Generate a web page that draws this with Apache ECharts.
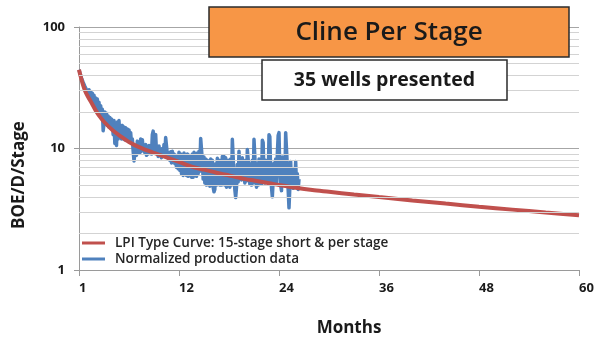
<!DOCTYPE html>
<html>
<head>
<meta charset="utf-8">
<script src="https://cdn.jsdelivr.net/npm/echarts@6/dist/echarts.min.js"></script>
<style>
  html, body { margin: 0; padding: 0; background: #fff; }
  #chart { width: 597px; height: 342px; }
</style>
</head>
<body>
<div id="chart"></div>
<script>
// Type curve (BOE/D per stage) at selected months
const curveMonths = [0, 0.25, 0.5, 0.75, 1, 1.5, 2, 2.5, 3, 4, 5, 6, 7, 8, 9, 10, 11, 12, 13, 14, 15, 16, 17, 18, 19, 20, 21, 22, 23, 24, 26, 28, 30, 33, 36, 40, 44, 48, 52, 56, 60];
const curveValues = [44.5, 38, 33, 29.6, 27.3, 23.8, 20.6, 18.3, 16.6, 14.2, 12.6, 11.3, 10.4, 9.75, 9.2, 8.7, 8.2, 7.75, 7.3, 6.95, 6.7, 6.45, 6.2, 6.0, 5.8, 5.6, 5.45, 5.3, 5.15, 5.0, 4.75, 4.55, 4.4, 4.18, 3.98, 3.74, 3.52, 3.32, 3.14, 2.97, 2.82];

// Normalized production data, one sample every 0.1 month starting at month 0
const prodStep = 0.1;
const prodValues = [
  44.5, 42, 40.5, 38, 37, 35, 34.5, 32.5, 32, 30.5,
  31.5, 27.5, 30.5, 26.5, 29.5, 25, 28.5, 24, 27.5, 23,
  26, 21.5, 25.5, 20.5, 24, 19.5, 22.5, 19, 21, 14,
  16, 20, 16.5, 19.5, 15.5, 18.5, 15, 18, 14.8, 17.5,
  16.5, 13, 17, 11, 15.5, 10.6, 16.5, 12, 17, 12.5,
  15, 12, 15.5, 12, 15, 11.8, 14.8, 12, 14.5, 11.9,
  14.2, 12.3, 13.5, 11, 12, 9.5, 7.9, 9, 10.2, 8.8,
  11.5, 9.6, 11.2, 9.2, 12, 9.5, 11.8, 10, 10.5, 9.2,
  10.8, 8.8, 10.4, 9, 10.6, 9.2, 10.2, 9, 13, 13.9,
  9.5, 12.5, 13, 9.2, 10.3, 8.6, 10.5, 8.8, 9.5, 8.4,
  10, 8.7, 10.8, 9, 12.3, 12, 9, 8.3, 9.2, 8,
  9.4, 7.6, 9.5, 7.8, 9, 7.5, 8.8, 7, 8.6, 6.8,
  9.3, 6.6, 9, 6.2, 8.8, 6, 9.2, 6.3, 8.6, 6,
  9, 5.9, 8.8, 6, 8.6, 5.8, 9, 5.8, 9.3, 6,
  8.8, 5.9, 9.2, 6.2, 9.5, 6.5, 12.1, 11.8, 8, 5.6,
  8.5, 5.2, 8.2, 5, 8, 5.4, 7.8, 4.9, 8.2, 5.2,
  8, 4.8, 4.4, 4.6, 7.5, 5, 8.3, 5.2, 8, 5,
  8, 5, 8.6, 5.4, 8.6, 5, 8.4, 4.8, 8, 5,
  8, 4.8, 8.2, 5, 11.9, 11.5, 6, 4.6, 3.95, 4.8,
  7.4, 5.3, 9.5, 5.6, 7.8, 5.5, 8.4, 5.8, 7.6, 5.2,
  8, 5.4, 9.8, 9.5, 6.8, 5.1, 7.5, 5, 8, 5.2,
  11.9, 11.5, 6.2, 4.8, 7.5, 5, 8.2, 5.3, 7.6, 5.1,
  11.7, 11.2, 5.8, 5.2, 8, 5.5, 7.8, 5.2, 13, 12.5,
  6.5, 4.8, 4, 5.5, 7.6, 5.3, 8.2, 5.2, 9, 12.8,
  13.5, 6.5, 5, 4.5, 8.5, 5.4, 7.8, 5, 13.5, 13.9,
  7.2, 4.6, 3.25, 4.8, 7.8, 4.8, 6.8, 4.7, 6.5, 4.9,
  7.8, 5, 6.2, 4.6, 5.6
];

// Log-scale minor gridline values
const minorGrid = [2, 3, 4, 5, 6, 7, 8, 9, 20, 30, 40, 50, 60, 70, 80, 90];
const xTickLabels = { 0: '1', 12: '12', 24: '24', 36: '36', 48: '48', 60: '60' };

const curveData = curveMonths.map((m, i) => [m, curveValues[i]]);
const prodData = prodValues.map((v, i) => [+(i * prodStep).toFixed(2), v]);

const FONT = '"Open Sans", Lato, sans-serif';

const chart = echarts.init(document.getElementById('chart'), null, { renderer: 'canvas' });
chart.setOption({
  animation: false,
  backgroundColor: '#ffffff',
  grid: { left: 79, right: 18, top: 27, bottom: 72, containLabel: false },
  legend: {
    left: 82, top: 235, orient: 'vertical', padding: 0, itemGap: 0,
    itemWidth: 23, itemHeight: 3, icon: 'rect',
    textStyle: { fontFamily: FONT, fontSize: 13.5, fontWeight: 600, color: '#262626', lineHeight: 16, padding: [0, 0, 0, 5] },
    data: ['LPI Type Curve: 15-stage short & per stage', 'Normalized production data']
  },
  xAxis: {
    type: 'value', min: 0, max: 60, interval: 12,
    axisLine: { show: true, lineStyle: { color: '#9a9a9a', width: 1 } },
    axisTick: { show: true, length: 6, lineStyle: { color: '#9a9a9a' } },
    splitLine: { show: false },
    axisLabel: {
      margin: 12, align: 'left',
      fontFamily: FONT, fontSize: 13, fontWeight: 'bold', color: '#1a1a1a',
      formatter: v => xTickLabels[v] || ''
    }
  },
  yAxis: {
    type: 'log', logBase: 10, min: 1, max: 100,
    axisLine: { show: true, lineStyle: { color: '#9a9a9a', width: 1 } },
    axisTick: { show: true, length: 5, lineStyle: { color: '#9a9a9a' } },
    splitLine: { show: true, lineStyle: { color: '#a6a6a6', width: 1 } },
    axisLabel: { margin: 14, fontFamily: FONT, fontSize: 13, fontWeight: 'bold', color: '#1a1a1a' }
  },
  series: [
    {
      name: 'grid',
      type: 'line', data: [], silent: true,
      markLine: {
        silent: true, symbol: 'none', animation: false,
        label: { show: false },
        lineStyle: { color: '#d3d3d3', width: 1, type: 'solid' },
        data: minorGrid.map(v => ({ yAxis: v }))
      }
    },
    {
      name: 'Normalized production data',
      type: 'line', data: prodData, showSymbol: false, z: 3,
      lineStyle: { color: '#4F81BD', width: 3.5, join: 'round' },
      itemStyle: { color: '#4F81BD' }
    },
    {
      name: 'LPI Type Curve: 15-stage short & per stage',
      type: 'line', data: curveData, smooth: 0.3, showSymbol: false, z: 4,
      lineStyle: { color: '#C0504D', width: 4 },
      itemStyle: { color: '#C0504D' }
    }
  ],
  graphic: [
    {
      type: 'rect', z: 100,
      shape: { x: 209, y: 7, width: 360, height: 50 },
      style: { fill: '#F79646', stroke: '#2b2b2b', lineWidth: 1.5 }
    },
    {
      type: 'text', z: 101, x: 389, y: 33,
      style: { text: 'Cline Per Stage', fontFamily: FONT, fontSize: 26, fontWeight: 600, fill: '#1a1a1a', align: 'center', verticalAlign: 'middle' }
    },
    {
      type: 'rect', z: 100,
      shape: { x: 262, y: 60, width: 245, height: 40 },
      style: { fill: '#ffffff', stroke: '#2b2b2b', lineWidth: 1.5 }
    },
    {
      type: 'text', z: 101, x: 384.5, y: 80,
      style: { text: '35 wells presented', fontFamily: FONT, fontSize: 19.5, fontWeight: 'bold', fill: '#1a1a1a', align: 'center', verticalAlign: 'middle' }
    },
    {
      type: 'text', z: 101, x: 19, y: 175, rotation: Math.PI / 2,
      style: { text: 'BOE/D/Stage', fontFamily: FONT, fontSize: 17, fontWeight: 'bold', fill: '#1a1a1a', align: 'center', verticalAlign: 'middle' }
    },
    {
      type: 'text', z: 101, x: 349, y: 328,
      style: { text: 'Months', fontFamily: FONT, fontSize: 17, fontWeight: 'bold', fill: '#1a1a1a', align: 'center', verticalAlign: 'middle' }
    }
  ]
});
</script>
</body>
</html>
